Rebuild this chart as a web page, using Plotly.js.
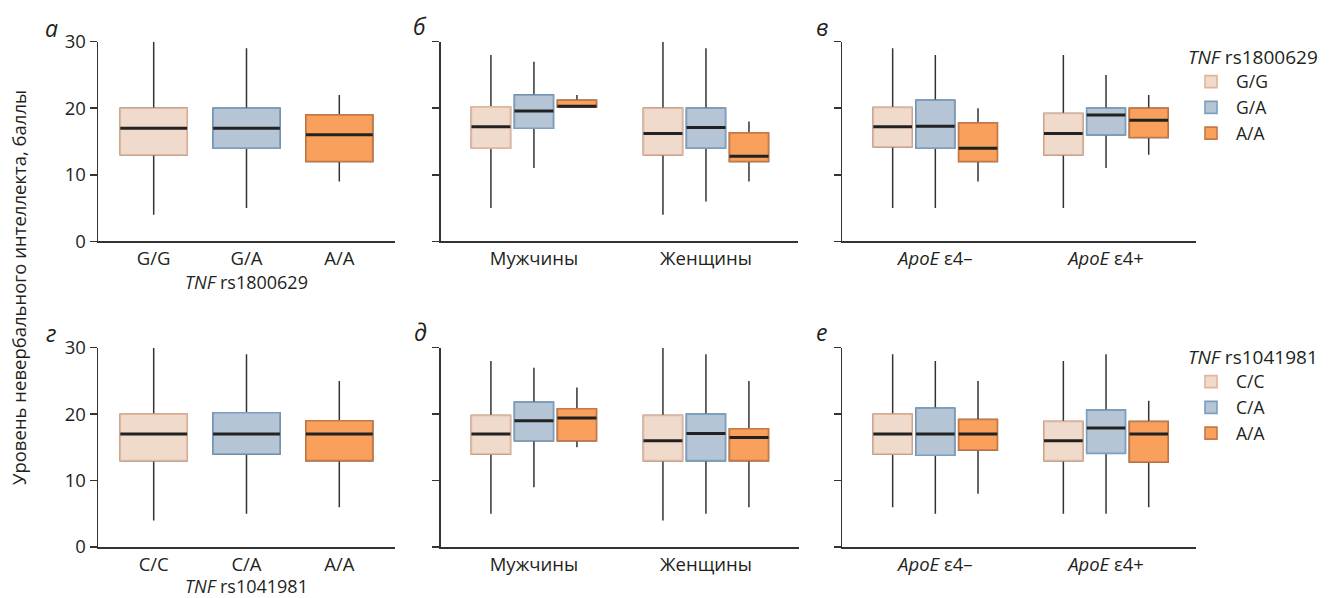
<!DOCTYPE html>
<html>
<head>
<meta charset="utf-8">
<script src="https://cdn.plot.ly/plotly-3.0.1.min.js"></script>
<style>html,body{margin:0;padding:0;background:#fff}#chart{width:1330px;height:598px}</style>
</head>
<body>
<div id="chart"></div>
<script>
// ---------- categories ----------
const genoTNF1 = ['G/G', 'G/A', 'A/A'];        // TNF rs1800629
const genoTNF2 = ['C/C', 'C/A', 'A/A'];        // TNF rs1041981
const sexCats = ['Мужчины', 'Женщины'];
const apoeCats = ['<i>ApoE</i> ε4–', '<i>ApoE</i> ε4+'];

// ---------- panel а: rs1800629 overall (G/G, G/A, A/A) ----------
const aLower = [4, 5, 9];
const aQ1 = [13, 14, 12];
const aMed = [17, 17, 16];
const aQ3 = [20, 20, 19];
const aUpper = [30, 29, 22];

// ---------- panel б: rs1800629 by sex [Мужчины, Женщины] ----------
const bGG = {lower: [5, 4], q1: [14, 13], med: [17.2, 16.2], q3: [20.2, 20], upper: [28, 30]};
const bGA = {lower: [11, 6], q1: [17, 14], med: [19.6, 17.1], q3: [22, 20], upper: [27, 29]};
const bAA = {lower: [20.2, 9], q1: [20.2, 12], med: [20.3, 12.8], q3: [21.2, 16.3], upper: [22, 18]};

// ---------- panel в: rs1800629 by ApoE [ε4−, ε4+] ----------
const cGG = {lower: [5, 5], q1: [14.2, 13], med: [17.2, 16.2], q3: [20.1, 19.2], upper: [29, 28]};
const cGA = {lower: [5, 11], q1: [14, 16], med: [17.3, 19], q3: [21.2, 20], upper: [28, 25]};
const cAA = {lower: [9, 13], q1: [12, 15.6], med: [14, 18.2], q3: [17.8, 20], upper: [20, 22]};

// ---------- panel г: rs1041981 overall (C/C, C/A, A/A) ----------
const dLower = [4, 5, 6];
const dQ1 = [13, 14, 13];
const dMed = [17, 17, 17];
const dQ3 = [20, 20.2, 19];
const dUpper = [30, 29, 25];

// ---------- panel д: rs1041981 by sex ----------
const eCC = {lower: [5, 4], q1: [14, 13], med: [17, 16], q3: [19.8, 19.8], upper: [28, 30]};
const eCA = {lower: [9, 5], q1: [16, 13], med: [19, 17.1], q3: [21.8, 20], upper: [27, 29]};
const eAA = {lower: [15, 6], q1: [16, 13], med: [19.4, 16.5], q3: [20.8, 17.8], upper: [24, 25]};

// ---------- panel е: rs1041981 by ApoE ----------
const fCC = {lower: [6, 5], q1: [14, 13], med: [17, 16], q3: [20, 18.9], upper: [29, 28]};
const fCA = {lower: [5, 5], q1: [13.8, 14.1], med: [17, 17.9], q3: [20.9, 20.6], upper: [28, 29]};
const fAA = {lower: [8, 6], q1: [14.6, 12.8], med: [17, 17], q3: [19.2, 18.9], upper: [25, 22]};

// ---------- styling ----------
const FONT = 'Open Sans, Noto Sans, DejaVu Sans, sans-serif';
const FS = 18.5;
const TXT = '#231f20';
const colors = [
  {fill: '#efdacb', line: '#e2b59b'},
  {fill: '#b5c5d5', line: '#7a9fc0'},
  {fill: '#f8a05c', line: '#c67846'}
];
const WHISK = '#333333';
const MEDC = '#222222';

const layers = {w: [], b: [], m: []};

function addBox(xs, st, col, xa, ya, opts) {
  const common = {
    type: 'box', x: xs, xaxis: xa, yaxis: ya,
    boxpoints: false, hoverinfo: 'skip', whiskerwidth: 0,
    offsetgroup: opts.group, alignmentgroup: opts.align
  };
  if (opts.width) common.width = opts.width;
  layers.w.push(Object.assign({}, common, {
    q1: st.q1, median: st.med, q3: st.q3, lowerfence: st.lower, upperfence: st.upper,
    fillcolor: 'rgba(0,0,0,0)', line: {color: WHISK, width: 1.5}, showlegend: false
  }));
  layers.b.push(Object.assign({}, common, {
    q1: st.q1, median: st.med, q3: st.q3, lowerfence: st.q1, upperfence: st.q3,
    fillcolor: col.fill, line: {color: col.line, width: 1.6},
    name: opts.name, showlegend: !!opts.legend, legend: opts.legend || 'legend'
  }));
  layers.m.push(Object.assign({}, common, {
    q1: st.med, median: st.med, q3: st.med, lowerfence: st.med, upperfence: st.med,
    fillcolor: 'rgba(0,0,0,0)', line: {color: MEDC, width: 3}, showlegend: false
  }));
}

// panel а (single box per category)
genoTNF1.forEach((g, i) => {
  addBox([g], {lower: [aLower[i]], q1: [aQ1[i]], med: [aMed[i]], q3: [aQ3[i]], upper: [aUpper[i]]},
    colors[i], 'x', 'y', {group: 'a' + i, align: 'a', width: 0.72});
});
// panel б
[bGG, bGA, bAA].forEach((st, i) => addBox(sexCats, st, colors[i], 'x2', 'y2', {group: 'g' + i, align: 'b'}));
// panel в
[cGG, cGA, cAA].forEach((st, i) => addBox(apoeCats, st, colors[i], 'x3', 'y3', {group: 'g' + i, align: 'c', legend: 'legend', name: genoTNF1[i]}));
// panel г
genoTNF2.forEach((g, i) => {
  addBox([g], {lower: [dLower[i]], q1: [dQ1[i]], med: [dMed[i]], q3: [dQ3[i]], upper: [dUpper[i]]},
    colors[i], 'x4', 'y4', {group: 'd' + i, align: 'd', width: 0.72});
});
// panel д
[eCC, eCA, eAA].forEach((st, i) => addBox(sexCats, st, colors[i], 'x5', 'y5', {group: 'g' + i, align: 'e'}));
// panel е
[fCC, fCA, fAA].forEach((st, i) => addBox(apoeCats, st, colors[i], 'x6', 'y6', {group: 'g' + i, align: 'f', legend: 'legend2', name: genoTNF2[i]}));

const data = layers.w.concat(layers.b, layers.m);

const W = 1330, H = 598;
function xd(a, b) { return [a / W, b / W]; }
function yd(top, bottom) { return [(H - bottom) / H, (H - top) / H]; }

function yaxis(domain, labels) {
  return {
    domain: domain, range: [0, 30], tickvals: [0, 10, 20, 30],
    ticks: 'outside', ticklen: 7, tickwidth: 1.5, tickcolor: '#333',
    showline: true, linecolor: '#333', linewidth: 1.5,
    showgrid: false, zeroline: false, showticklabels: labels,
    tickfont: {family: FONT, size: FS, color: TXT}, fixedrange: true
  };
}
function xaxis(domain, range, anchor, title) {
  const ax = {
    domain: domain, range: range, type: 'category', anchor: anchor,
    showline: true, linecolor: '#333', linewidth: 1.5, ticks: '',
    showgrid: false, zeroline: false,
    tickfont: {family: FONT, size: FS, color: TXT}, fixedrange: true
  };
  if (title) ax.title = {text: title, font: {family: FONT, size: 18, color: TXT}, standoff: 7};
  return ax;
}

const topY = yd(41.7, 241.3);
const botY = yd(347.7, 547);

function letter(t, px, py) {
  return {text: '<i>' + t + '</i>', x: px / W, y: (H - py) / H, xref: 'paper', yref: 'paper',
    xanchor: 'center', yanchor: 'middle', showarrow: false, font: {family: FONT, size: 23, color: TXT}};
}

const layout = {
  width: W, height: H,
  margin: {l: 0, r: 0, t: 0, b: 0},
  paper_bgcolor: '#fff', plot_bgcolor: '#fff',
  boxmode: 'group', boxgap: 0.25, boxgroupgap: 0.093,
  font: {family: FONT, size: FS, color: TXT},
  showlegend: true,
  xaxis: xaxis(xd(98, 395), [-0.6, 2.6], 'y', '<i>TNF</i> rs1800629'),
  yaxis: Object.assign(yaxis(topY, true), {anchor: 'x'}),
  xaxis2: xaxis(xd(440.7, 798), [-0.542, 1.535], 'y2'),
  yaxis2: Object.assign(yaxis(topY, false), {anchor: 'x2'}),
  xaxis3: xaxis(xd(842.3, 1196), [-0.545, 1.527], 'y3'),
  yaxis3: Object.assign(yaxis(topY, false), {anchor: 'x3'}),
  xaxis4: xaxis(xd(98, 395), [-0.6, 2.6], 'y4', '<i>TNF</i> rs1041981'),
  yaxis4: Object.assign(yaxis(botY, true), {anchor: 'x4'}),
  xaxis5: xaxis(xd(440.7, 799), [-0.542, 1.541], 'y5'),
  yaxis5: Object.assign(yaxis(botY, false), {anchor: 'x5'}),
  xaxis6: xaxis(xd(842.3, 1196), [-0.545, 1.527], 'y6'),
  yaxis6: Object.assign(yaxis(botY, false), {anchor: 'x6'}),
  legend: {
    x: 1186 / W, y: (H - 39) / H, xanchor: 'left', yanchor: 'top',
    title: {text: '<i>TNF</i> rs1800629', font: {family: FONT, size: 19, color: TXT}},
    font: {family: FONT, size: 17.5, color: TXT}, bgcolor: 'rgba(0,0,0,0)', tracegroupgap: 0, itemwidth: 40
  },
  legend2: {
    x: 1186 / W, y: (H - 339) / H, xanchor: 'left', yanchor: 'top',
    title: {text: '<i>TNF</i> rs1041981', font: {family: FONT, size: 19, color: TXT}},
    font: {family: FONT, size: 17.5, color: TXT}, bgcolor: 'rgba(0,0,0,0)', tracegroupgap: 0, itemwidth: 40
  },
  annotations: [
    {text: 'Уровень невербального интеллекта, баллы', x: 18 / W, y: (H - 288) / H, xref: 'paper', yref: 'paper',
     xanchor: 'center', yanchor: 'middle', textangle: -90, showarrow: false, font: {family: FONT, size: FS, color: TXT}},
    letter('а', 51, 28),
    letter('б', 420, 26),
    letter('в', 822, 27),
    letter('г', 51, 333),
    letter('д', 421, 332),
    letter('е', 822, 332)
  ]
};

Plotly.newPlot('chart', data, layout, {staticPlot: true, displayModeBar: false});
</script>
</body>
</html>
